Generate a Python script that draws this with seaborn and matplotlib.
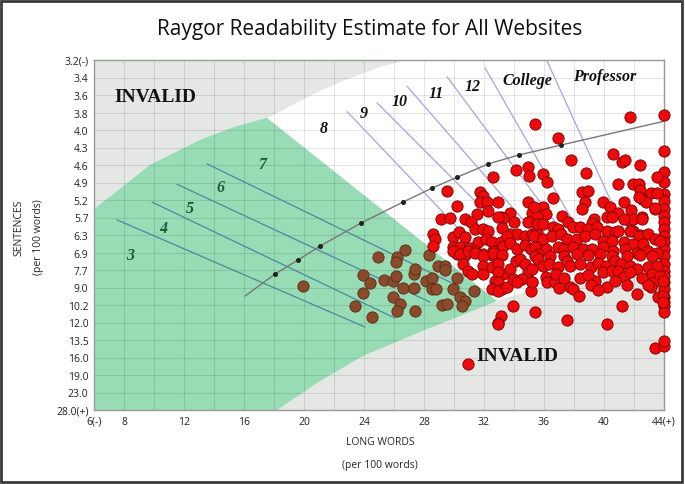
import numpy as np
import pandas as pd
import matplotlib
matplotlib.use("Agg")
import matplotlib.pyplot as plt
import seaborn as sns
from matplotlib.patches import Rectangle
from matplotlib.ticker import NullLocator

sns.set_theme(style="white")
plt.rcParams["font.family"] = ["Open Sans", "DejaVu Sans"]

# ---- axis scale (Raygor sentence axis is not linear) ----
sent_ticks = [3.2, 3.4, 3.6, 3.8, 4.0, 4.3, 4.6, 4.9, 5.2, 5.7, 6.3, 6.9, 7.7,
              9.0, 10.2, 12.0, 13.5, 16.0, 19.0, 23.0, 28.0]
sent_labels = ["3.2(-)"] + [f"{v:.1f}" for v in sent_ticks[1:-1]] + ["28.0(+)"]
lw_ticks = [6, 8, 12, 16, 20, 24, 28, 32, 36, 40, 44]
lw_labels = ["6(-)"] + [str(v) for v in lw_ticks[1:-1]] + ["44(+)"]

# ---- websites (long words, sentences per 100 words) ----
red_lw = [35.4, 36.9, 41.7, 44.0, 44.0, 37.8, 40.6, 41.2, 41.4, 42.4, 38.8, 34.1, 34.9, 35.0,
          32.6, 35.9, 36.2,
          44.0, 44.0, 44.0, 44.0, 44.0, 44.0, 44.0, 44.0, 44.0, 44.0,
          44.0, 44.0, 44.0, 44.0, 44.0, 44.0, 44.0, 44.0, 44.0, 44.0, 44.0,
          43.5, 40.9, 41.9, 42.3, 42.4, 43.1, 43.5, 38.5, 38.9, 36.6, 34.9, 32.9, 31.7, 31.9,
          29.5, 30.2, 31.7, 32.2, 32.3, 39.9, 38.7, 38.5, 40.4, 40.9, 41.3, 41.8, 43.4, 42.5,
          41.7, 35.9, 36.1, 37.2, 35.2, 35.5, 33.7, 34.0, 33.1, 31.5, 30.7, 31.1, 29.1, 29.7,
          39.3, 39.2, 40.2, 40.5, 41.9, 42.4,
          42.5, 42.8, 41.9, 42.5, 41.3, 42.3, 43.4, 33.3, 34.9, 35.5, 35.3, 32.9,
          28.6, 28.7, 28.6, 29.9, 30.3, 30.7, 31.4, 31.9, 32.3, 33.2, 33.7, 34.2, 34.7, 35.2,
          35.5, 31.6, 32.1, 32.5, 33.1, 33.5, 29.9, 30.4, 31.0, 31.4, 31.9, 32.6, 32.5, 30.2,
          30.7, 33.3, 33.7, 34.2, 34.7, 35.1, 35.5,
          35.5, 35.9, 36.6, 36.9, 37.6, 37.9, 38.4, 38.9,
          39.5, 40.2, 40.7, 40.9, 41.7, 42.3, 42.9, 43.4, 43.7,
          35.3, 35.9, 36.5, 37.1, 37.5, 38.2, 38.7, 39.4,
          39.9, 40.5, 41.3, 41.9, 42.6,
          35.4, 36.1, 36.9, 37.3, 37.9, 38.6, 39.2, 39.9, 40.6, 41.4, 42.2, 42.9, 43.5,
          35.6, 36.4, 37.3, 38.2, 38.9, 39.7, 40.5, 41.5, 42.4, 43.2,
          29.9, 30.4, 30.9, 31.4, 31.9, 32.6, 33.2,
          30.6, 30.9, 31.2, 31.9, 31.9,
          32.5, 32.9, 33.3, 32.9, 32.7, 32.9, 33.2, 32.5, 32.9, 33.5,
          33.7, 34.1, 34.4, 34.7, 34.9, 34.5, 33.9, 34.2,
          35.2, 35.1, 35.4, 35.6,
          33.9, 35.4, 33.1, 32.9, 32.9,
          35.2, 35.9, 36.3, 36.9, 37.5, 37.7, 38.4, 39.1, 39.6, 40.1, 40.7, 41.1, 41.7, 42.2,
          42.9, 43.5,
          35.2, 36.1, 36.2, 36.7, 38.4, 39.4, 39.9, 40.5, 40.9, 41.3, 41.5, 41.7, 43.1, 43.2,
          43.3, 43.7, 43.9,
          37.7, 37.9, 38.3, 40.2, 42.2, 43.1, 43.6, 43.9, 43.9,
          36.8, 37.3, 38.9, 39.1, 40.7, 42.5, 42.9, 37.0, 39.6,
          37.5, 40.2, 41.2, 30.9, 43.4, 44.0, 44.0]
red_sent = [3.93, 4.14, 3.85, 3.83, 4.36, 4.51, 4.41, 4.55, 4.51, 4.60, 4.74, 4.69, 4.63, 4.79,
            4.81, 4.75, 4.89,
            4.72, 4.89, 5.10, 5.23, 5.46, 5.65, 5.86, 6.10, 6.34, 6.54,
            6.78, 7.06, 7.43, 7.78, 8.14, 8.60, 9.10, 9.65, 10.0, 10.33, 10.92,
            4.81, 4.93, 4.93, 4.93, 5.02, 5.08, 5.08, 5.06, 5.05, 5.17, 5.25, 5.25, 5.06, 5.13,
            5.05, 5.37, 5.25, 5.27, 5.52, 5.26, 5.27, 5.46, 5.41, 5.56, 5.26, 5.49, 5.46, 5.69,
            5.81, 5.41, 5.60, 5.65, 5.56, 5.65, 5.56, 5.86, 5.69, 5.60, 5.75, 5.86, 5.75, 5.72,
            5.75, 5.90, 5.69, 5.69, 6.16, 6.30,
            5.18, 5.26, 5.75, 5.75, 5.75, 5.15, 5.43, 5.72, 5.86, 5.92, 5.40, 5.69,
            6.27, 6.44, 6.68, 6.36, 6.20, 6.36, 6.10, 6.10, 6.17, 6.05, 6.27, 6.27, 6.34, 6.27,
            6.20, 6.54, 6.44, 6.54, 6.54, 6.34, 6.71, 6.71, 6.75, 6.85, 6.97, 6.85, 7.00, 6.97,
            7.00, 6.68, 6.58, 6.78, 6.64, 6.78, 6.68,
            5.92, 5.92, 6.02, 6.10, 5.86, 6.02, 6.02, 6.10,
            6.02, 6.15, 6.20, 6.15, 6.15, 6.34, 6.27, 6.44, 6.51,
            6.34, 6.44, 6.34, 6.27, 6.44, 6.44, 6.34, 6.27,
            6.51, 6.51, 6.54, 6.61, 6.61,
            6.71, 6.78, 6.71, 6.78, 6.71, 6.78, 6.78, 6.71, 6.85, 6.78, 6.90, 6.85, 6.90,
            6.97, 7.06, 7.06, 6.97, 7.02, 6.97, 7.06, 7.06, 7.02, 7.06,
            6.85, 6.97, 6.85, 6.90, 7.06, 6.90, 7.02,
            7.43, 7.78, 8.00, 7.52, 8.00,
            7.56, 7.43, 8.00, 7.84, 8.52, 8.60, 9.10, 9.10, 9.24, 8.96,
            7.65, 7.29, 7.20, 7.43, 7.84, 8.36, 8.36, 8.60,
            8.60, 9.24, 7.06, 7.20,
            10.27, 10.9, 11.3, 12.0, 12.15,
            7.65, 7.52, 7.43, 7.56, 7.29, 7.52, 7.43, 7.56, 7.36, 7.52, 7.29, 7.43, 7.52, 7.65,
            7.56, 7.52,
            8.60, 8.22, 8.60, 8.60, 8.29, 8.52, 7.84, 7.78, 7.78, 8.22, 8.82, 7.84, 8.14, 8.00,
            8.60, 8.14, 8.52,
            8.96, 9.10, 9.59, 8.96, 9.44, 8.96, 9.65, 9.59, 10.0,
            8.0, 8.3, 8.1, 8.8, 8.5, 8.3, 8.8, 9.0, 9.2,
            11.7, 12.13, 10.27, 17.1, 14.65, 14.35, 13.65]

brown_lw = [19.9, 24.9, 26.2, 26.1, 26.7, 23.9, 24.4, 23.9, 23.4, 24.5, 25.3, 25.9, 26.1,
            27.3, 26.6, 27.3, 25.9, 26.4, 26.2, 27.4, 28.3, 27.4, 28.9, 29.4, 29.4, 28.1,
            28.5, 28.5, 28.8, 30.2, 29.9, 31.3, 30.4, 30.7, 29.2, 29.5, 30.5]
brown_sent = [8.88, 7.10, 7.10, 7.32, 6.83, 8.07, 8.66, 9.37, 10.33, 11.44, 8.47, 8.53, 8.18,
              8.00, 9.00, 9.00, 9.65, 10.16, 10.81, 10.81, 7.01, 7.66, 7.50, 7.50, 7.73, 8.52,
              8.30, 9.10, 9.10, 8.26, 9.10, 9.24, 9.65, 9.92, 10.2, 10.16, 10.27]

# ---- graph regions ----
green_lw = [6.0, 7.73, 9.73, 13.07, 15.27, 17.53, 32.87, 30.4, 27.73, 23.93, 21.07, 18.2, 6.0]
green_sent = [5.46, 5.01, 4.60, 4.17, 3.97, 3.86, 9.92, 11.33, 12.81, 15.78, 20.36, 28.0, 28.0]
white_lw = [17.53, 18.4, 20.6, 22.87, 25.07, 26.87, 44.0, 44.0, 39.73, 35.73, 32.87]
white_sent = [3.86, 3.79, 3.59, 3.42, 3.28, 3.2, 3.2, 7.29, 7.92, 8.96, 9.92]

# grade boundary lines (start, end)
green_lines = [((7.53, 5.78), (24.07, 12.39)), ((9.87, 5.26), (26.07, 11.55)),
               ((11.53, 4.93), (28.4, 10.0)), ((13.53, 4.58), (30.4, 8.96))]
violet_lines = [((22.87, 3.79), (31.73, 6.85)), ((24.87, 3.69), (34.4, 6.68)),
                ((26.87, 3.50), (36.07, 6.64)), ((29.53, 3.39), (38.07, 6.78)),
                ((32.07, 3.29), (39.07, 6.85)), ((36.2, 3.21), (42.07, 6.97))]

curve_lw = [16.07, 18.07, 19.6, 21.07, 23.8, 26.6, 28.5, 30.2, 32.3, 34.3, 37.1, 44.0]
curve_sent = [9.59, 8.0, 7.24, 6.68, 5.89, 5.26, 5.0, 4.81, 4.58, 4.43, 4.26, 3.9]

grade_text = ["3", "4", "5", "6", "7", "8", "9", "10", "11", "12", "College", "Professor"]
grade_lw = [8.4, 10.6, 12.4, 14.4, 17.2, 21.33, 24.0, 26.4, 28.8, 31.27, 34.87, 40.07]
grade_sent = [7.01, 6.06, 5.44, 4.98, 4.58, 3.98, 3.81, 3.67, 3.58, 3.50, 3.43, 3.38]

pos = np.arange(len(sent_ticks))
def fwd(v):
    return np.interp(v, sent_ticks, pos)
def inv(p):
    return np.interp(p, pos, sent_ticks)

fig = plt.figure(figsize=(6.85, 4.85), dpi=100)
ax = fig.add_axes([94 / 685, 1 - 411 / 485, 570 / 685, 350 / 485])
ax.set_yscale("function", functions=(fwd, inv))
ax.set_xlim(6, 44)
ax.set_ylim(28.0, 3.2)
ax.set_facecolor("#e4e7e4")

ax.fill(green_lw, green_sent, color="#97dcb5", zorder=0.2, lw=0)
ax.fill(white_lw, white_sent, color="white", zorder=0.2, lw=0)

for (x0, y0), (x1, y1) in green_lines:
    ax.plot([x0, x1], [y0, y1], color="#4f87a0", lw=0.9, zorder=2)
for (x0, y0), (x1, y1) in violet_lines:
    ax.plot([x0, x1], [y0, y1], color="#a4a4e2", lw=0.9, zorder=2)
ax.plot(curve_lw, curve_sent, color="#777777", lw=1.0, zorder=2)
ax.plot(curve_lw[1:-1], curve_sent[1:-1], "o", color="#222222", ms=2.6, zorder=2.1)

for i, t in enumerate(grade_text):
    c = "#1c5a38" if i < 5 else "#111111"
    ax.text(grade_lw[i], grade_sent[i], t, ha="center", va="center", fontsize=11.5,
            family="Liberation Serif", fontweight="bold", style="italic", color=c, zorder=2.5)

ax.text(10.07, 3.62, "INVALID", ha="center", va="center", fontsize=14,
        family="Liberation Serif", fontweight="bold", color="#111111", zorder=2.5)
ax.text(34.2, 15.78, "INVALID", ha="center", va="center", fontsize=14,
        family="Liberation Serif", fontweight="bold", color="#111111", zorder=2.5)

brown = pd.DataFrame({"long_words": brown_lw, "sentences": brown_sent})
red = pd.DataFrame({"long_words": red_lw, "sentences": red_sent})
sns.scatterplot(data=brown, x="long_words", y="sentences", ax=ax, s=66,
                color="#8b4a2b", edgecolor="#5a2c14", linewidth=0.6, zorder=4,
                legend=False, clip_on=False)
sns.scatterplot(data=red, x="long_words", y="sentences", ax=ax, s=66,
                color="#ee0a0a", edgecolor="#7a0000", linewidth=0.6, zorder=5,
                legend=False, clip_on=False)

ax.set_xticks(lw_ticks)
ax.set_xticklabels(lw_labels)
ax.set_xticks(list(range(10, 44, 4)), minor=True)
ax.set_yticks(sent_ticks)
ax.set_yticklabels(sent_labels)
ax.yaxis.set_minor_locator(NullLocator())
ax.set_axisbelow("line")
ax.grid(True, which="both", color="black", alpha=0.1, lw=0.8)
ax.tick_params(axis="both", which="both", length=0, labelsize=7.5, colors="#222222", pad=4)
ax.set_xlabel("")
ax.set_ylabel("")
for s in ax.spines.values():
    s.set_color("#9a9a9a")
    s.set_linewidth(1.0)

fig.text(0.54, 1 - 30 / 485, "Raygor Readability Estimate for All Websites",
         ha="center", va="center", fontsize=15, color="#111111")
fig.text(380 / 685, 1 - 443 / 485, "LONG WORDS", ha="center", va="center", fontsize=7.5)
fig.text(380 / 685, 1 - 466 / 485, "(per 100 words)", ha="center", va="center", fontsize=7.5)
fig.text(19 / 685, 1 - 228 / 485, "SENTENCES", ha="center", va="center", fontsize=7.5,
         rotation=90)
fig.text(38 / 685, 1 - 237 / 485, "(per 100 words)", ha="center", va="center", fontsize=7.5,
         rotation=90)

fig.patches.append(Rectangle((0.002, 0.004), 0.994, 0.992, transform=fig.transFigure,
                             fill=False, edgecolor="#3a3a3a", lw=2))

fig.savefig("out.png", dpi=100)
